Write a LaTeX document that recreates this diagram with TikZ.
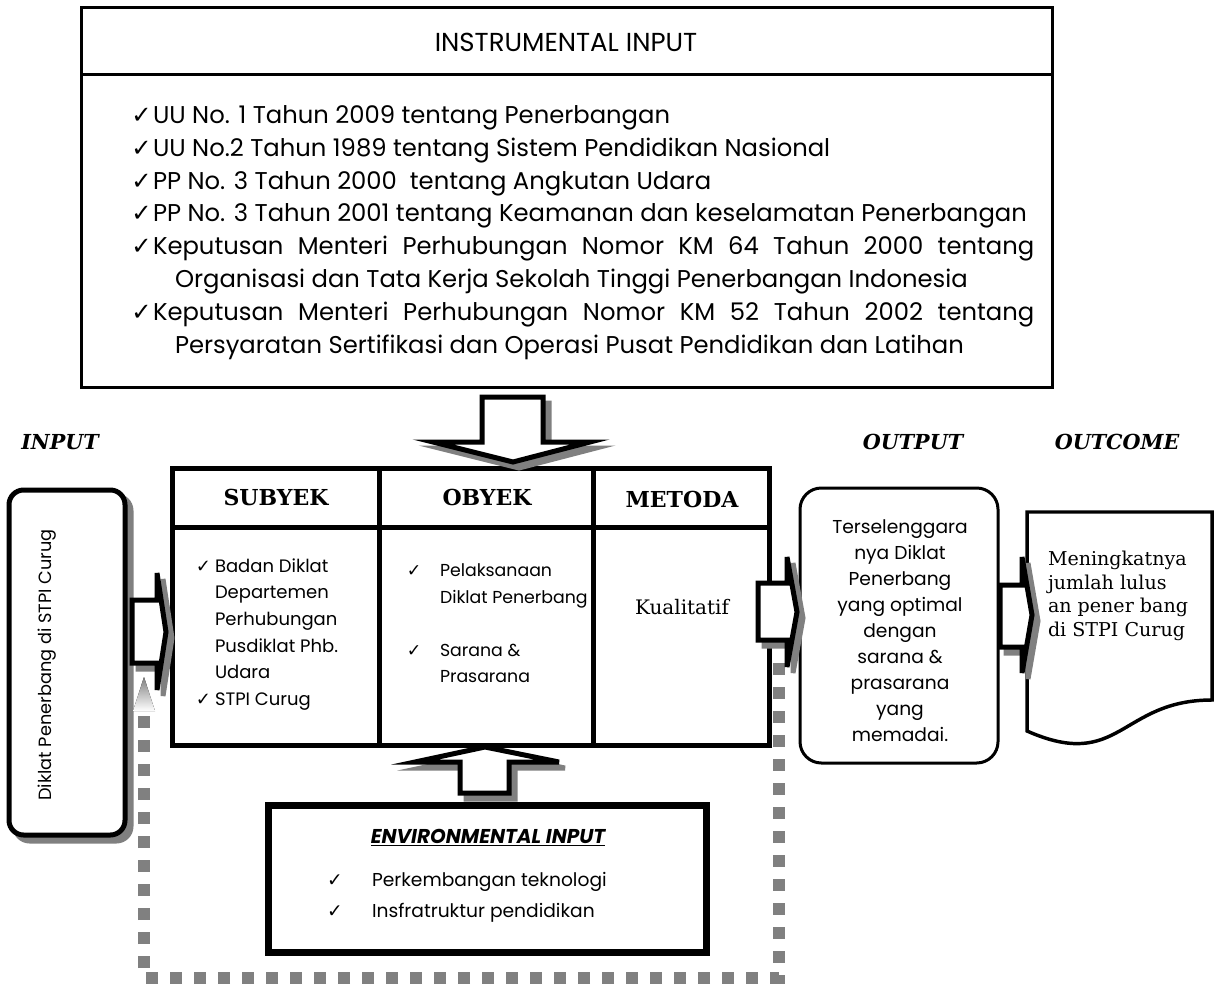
\documentclass[tikz,border=0pt]{standalone}
\usepackage{fontspec}
\usetikzlibrary{arrows.meta}
\setmainfont{Poppins}
\newfontfamily\serif{DejaVu Serif}
\newfontfamily\symf{DejaVu Sans}
\newcommand\ck{{\symf\char"2713}}
\definecolor{shade}{HTML}{808080}
\newcommand\shadowed[2][6]{\draw[shd,shift={(#1,#1)}] #2; \draw[blk] #2;}
\begin{document}
\begin{tikzpicture}[x=0.75pt,y=-0.75pt,
 every node/.style={inner sep=0pt,outer sep=0pt},
 lst/.style={anchor=west,font=\fontsize{18.2}{22}\selectfont},
 hdr/.style={font=\serif\bfseries\fontsize{16.5}{20}\selectfont},
 lbl/.style={font=\serif\bfseries\itshape\fontsize{15.5}{20}\selectfont},
 cell/.style={anchor=west,align=left,font=\fontsize{13.5}{20}\selectfont},
 blk/.style={draw=black,fill=white,line width=3.75pt},
 shd/.style={draw=shade,fill=shade,line width=3.75pt},
 fb/.style={draw=shade,line width=9pt,dash pattern=on 9pt off 9pt}
]
\useasboundingbox (0,0) rectangle (1219,984);

% feedback connector (dotted)
\coordinate (fb1) at (779,663);
\coordinate (fb2) at (779,978);
\coordinate (fb3) at (144,978);
\coordinate (fb4) at (144,677);
\draw[fb] (fb1) -- (fb2) -- (fb3) -- (144,712);

% instrumental input box
\draw[line width=2.25pt] (81,8) rectangle (1052,387);
\draw[line width=2.25pt] (81,75) -- (1052,75);
\node[font=\fontsize{19.5}{22}\selectfont] (ti) at (566,42) {INSTRUMENTAL INPUT};
\node[lst] (i1) at (153,118) {\llap{\ck\hspace{1pt}}UU No. 1 Tahun 2009 tentang Penerbangan};
\node[lst] (i2) at (153,150.7) {\llap{\ck\hspace{1pt}}UU No.2 Tahun 1989 tentang Sistem Pendidikan Nasional};
\node[lst] (i3) at (153,183.4) {\llap{\ck\hspace{1pt}}PP No. 3 Tahun 2000 \ tentang Angkutan Udara};
\node[lst] (i4) at (153,216) {\llap{\ck\hspace{1pt}}PP No. 3 Tahun 2001 tentang Keamanan dan keselamatan Penerbangan};
\node[lst] (i5) at (153,248.8) {\llap{\ck\hspace{1pt}}\makebox[661pt][s]{Keputusan Menteri Perhubungan Nomor KM 64 Tahun 2000 tentang}};
\node[lst] (i6) at (175,281.5) {Organisasi dan Tata Kerja Sekolah Tinggi Penerbangan Indonesia};
\node[lst] (i7) at (153,314.2) {\llap{\ck\hspace{1pt}}\makebox[661pt][s]{Keputusan Menteri Perhubungan Nomor KM 52 Tahun 2002 tentang}};
\node[lst] (i8) at (175,347) {Persyaratan Sertifikasi dan Operasi Pusat Pendidikan dan Latihan};

% labels
\node[lbl] (lin) at (60,442) {INPUT};
\node[lbl] (lout) at (913,442) {OUTPUT};
\node[lbl] (lres) at (1117,442) {OUTCOME};

% input box
\draw[shd,rounded corners=11pt] (15,496) rectangle (131,841);
\draw[line width=3.75pt,fill=white,rounded corners=11pt] (9,490) rectangle (125,835);
\node[rotate=90,font=\fontsize{13.3}{16}\selectfont] (tin) at (47,665) {Diklat Penerbang di STPI Curug};

% table
\draw[line width=3.75pt] (172,468) rectangle (769,745);
\draw[line width=3.75pt] (379,468) -- (379,745) (593,468) -- (593,745) (172,527) -- (769,527);
\node[hdr] (hs) at (276,497) {SUBYEK};
\node[hdr] (ho) at (487,497) {OBYEK};
\node[hdr] (hm) at (682,499) {METODA};
\node[cell] (cs) at (215,634.5) {\llap{\ck\hspace{3pt}}Badan Diklat\\Departemen\\Perhubungan\\Pusdiklat Phb.\\Udara\\\llap{\ck\hspace{3pt}}STPI Curug};
\node[cell,font=\fontsize{13}{20}\selectfont] (co1) at (440,586) {\llap{\ck\hspace{14pt}}Pelaksanaan\\Diklat Penerbang};
\node[cell,font=\fontsize{13}{20}\selectfont] (co2) at (440,663.5) {\llap{\ck\hspace{14pt}}Sarana \&\\Prasarana};
\node[font=\serif\fontsize{15}{18}\selectfont] (cm) at (682,607) {Kualitatif};

% output box
\draw[line width=2.25pt,rounded corners=16pt] (800,488) rectangle (998,763);
\node[align=center,font=\fontsize{14}{19.5}\selectfont] (tout) at (900,631) {Terselenggara\\nya Diklat\\Penerbang\\yang optimal\\dengan\\sarana \&\\prasarana\\yang\\memadai.};

% outcome document
\draw[line width=2.6pt] (1027,512) -- (1212,512) -- (1212,700) .. controls (1120,700) and (1120,772) .. (1027,731) -- cycle;
\node[anchor=west,align=left,font=\serif\fontsize{14.3}{17.6}\selectfont] (tdoc) at (1048,596) {Meningkatnya\\jumlah lulus\\an pener bang\\di STPI Curug};

% environmental input
\draw[line width=5.25pt] (268,805) rectangle (706,952);
\node[font=\bfseries\itshape\fontsize{15}{18}\selectfont] (envt) at (488,838) {\underline{ENVIRONMENTAL INPUT}};
\node[anchor=west,font=\fontsize{14}{18}\selectfont] (e1) at (372,882) {\llap{\ck\hspace{22pt}}Perkembangan teknologi};
\node[anchor=west,font=\fontsize{14}{18}\selectfont] (e2) at (372,913) {\llap{\ck\hspace{22pt}}Insfratruktur pendidikan};

% block arrows
\shadowed{(482,397) -- (543,397) -- (543,442) -- (590,442) -- (513,462) -- (433,442) -- (482,442) -- cycle}
\shadowed{(460,793) -- (509,793) -- (509,762) -- (559,762) -- (485,747) -- (415,762) -- (460,762) -- cycle}
\shadowed{(132,600) -- (157,600) -- (157,573) -- (166,632) -- (157,690) -- (157,663) -- (132,663) -- cycle}
\shadowed{(758,583) -- (787,583) -- (787,557) -- (797,612) -- (787,667) -- (787,640) -- (758,640) -- cycle}
\shadowed{(1000,585) -- (1022,585) -- (1022,557) -- (1032,615) -- (1022,673) -- (1022,647) -- (1000,647) -- cycle}

% head of the feedback connector
\fill[shade] (133,711) -- (fb4) -- (155,711) -- cycle;
\end{tikzpicture}
\end{document}
